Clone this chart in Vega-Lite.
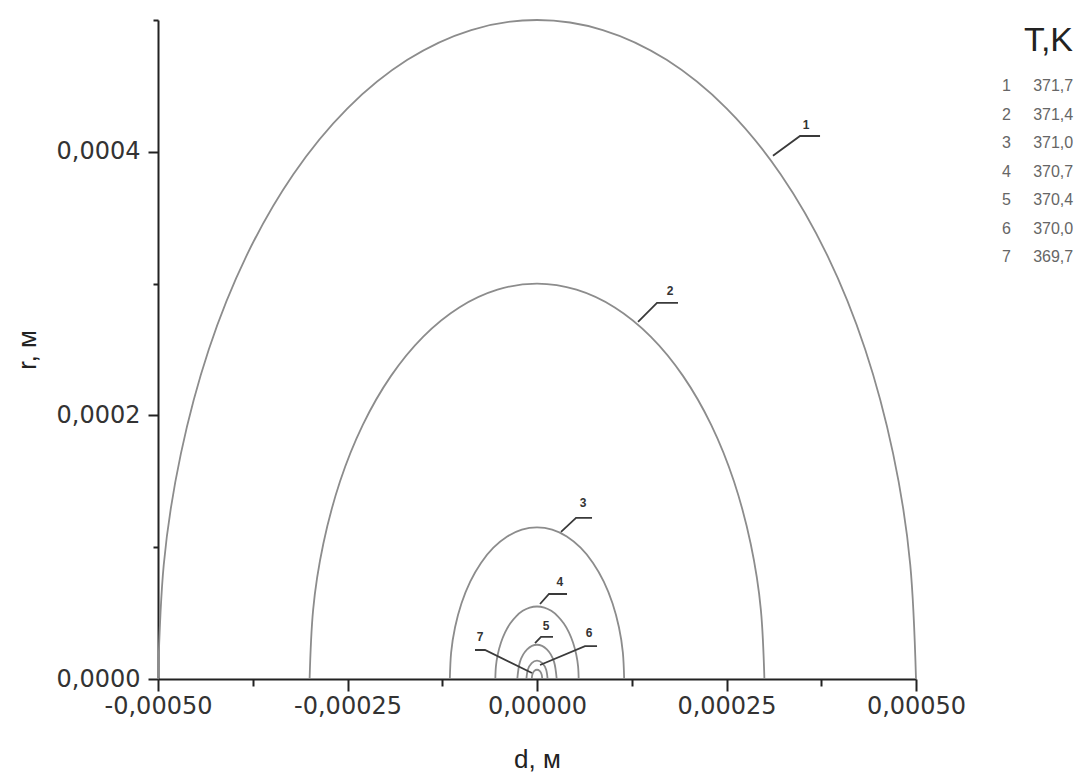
{
  "$schema": "https://vega.github.io/schema/vega-lite/v6.json",
  "width": 758,
  "height": 659,
  "autosize": {"type": "none"},
  "padding": {"left": 158, "top": 20, "right": 168, "bottom": 99},
  "background": "white",
  "config": {
    "view": {"stroke": null},
    "axis": {
      "grid": false,
      "domainColor": "#222",
      "domainWidth": 2,
      "tickColor": "#222",
      "tickWidth": 2,
      "labelFont": "DejaVu Sans",
      "labelFontSize": 24,
      "labelColor": "#333",
      "titleFont": "Liberation Sans",
      "titleFontSize": 26,
      "titleFontWeight": "normal",
      "titleColor": "#222"
    }
  },
  "datasets": {
    "curves": [
      {"c": 1, "T": "371,7", "i": 0, "d": 0.0005, "r": 0},
      {"c": 1, "T": "371,7", "i": 1, "d": 0.0004924, "r": 0.0000868},
      {"c": 1, "T": "371,7", "i": 2, "d": 0.0004698, "r": 0.000171},
      {"c": 1, "T": "371,7", "i": 3, "d": 0.000433, "r": 0.00025},
      {"c": 1, "T": "371,7", "i": 4, "d": 0.000383, "r": 0.0003214},
      {"c": 1, "T": "371,7", "i": 5, "d": 0.0003214, "r": 0.000383},
      {"c": 1, "T": "371,7", "i": 6, "d": 0.00025, "r": 0.000433},
      {"c": 1, "T": "371,7", "i": 7, "d": 0.000171, "r": 0.0004698},
      {"c": 1, "T": "371,7", "i": 8, "d": 0.0000868, "r": 0.0004924},
      {"c": 1, "T": "371,7", "i": 9, "d": 0, "r": 0.0005},
      {"c": 1, "T": "371,7", "i": 10, "d": -0.0000868, "r": 0.0004924},
      {"c": 1, "T": "371,7", "i": 11, "d": -0.000171, "r": 0.0004698},
      {"c": 1, "T": "371,7", "i": 12, "d": -0.00025, "r": 0.000433},
      {"c": 1, "T": "371,7", "i": 13, "d": -0.0003214, "r": 0.000383},
      {"c": 1, "T": "371,7", "i": 14, "d": -0.000383, "r": 0.0003214},
      {"c": 1, "T": "371,7", "i": 15, "d": -0.000433, "r": 0.00025},
      {"c": 1, "T": "371,7", "i": 16, "d": -0.0004698, "r": 0.000171},
      {"c": 1, "T": "371,7", "i": 17, "d": -0.0004924, "r": 0.0000868},
      {"c": 1, "T": "371,7", "i": 18, "d": -0.0005, "r": 0},

      {"c": 2, "T": "371,4", "i": 0, "d": 0.0003, "r": 0},
      {"c": 2, "T": "371,4", "i": 1, "d": 0.0002954, "r": 0.0000521},
      {"c": 2, "T": "371,4", "i": 2, "d": 0.0002819, "r": 0.0001026},
      {"c": 2, "T": "371,4", "i": 3, "d": 0.0002598, "r": 0.00015},
      {"c": 2, "T": "371,4", "i": 4, "d": 0.0002298, "r": 0.0001928},
      {"c": 2, "T": "371,4", "i": 5, "d": 0.0001928, "r": 0.0002298},
      {"c": 2, "T": "371,4", "i": 6, "d": 0.00015, "r": 0.0002598},
      {"c": 2, "T": "371,4", "i": 7, "d": 0.0001026, "r": 0.0002819},
      {"c": 2, "T": "371,4", "i": 8, "d": 0.0000521, "r": 0.0002954},
      {"c": 2, "T": "371,4", "i": 9, "d": 0, "r": 0.0003},
      {"c": 2, "T": "371,4", "i": 10, "d": -0.0000521, "r": 0.0002954},
      {"c": 2, "T": "371,4", "i": 11, "d": -0.0001026, "r": 0.0002819},
      {"c": 2, "T": "371,4", "i": 12, "d": -0.00015, "r": 0.0002598},
      {"c": 2, "T": "371,4", "i": 13, "d": -0.0001928, "r": 0.0002298},
      {"c": 2, "T": "371,4", "i": 14, "d": -0.0002298, "r": 0.0001928},
      {"c": 2, "T": "371,4", "i": 15, "d": -0.0002598, "r": 0.00015},
      {"c": 2, "T": "371,4", "i": 16, "d": -0.0002819, "r": 0.0001026},
      {"c": 2, "T": "371,4", "i": 17, "d": -0.0002954, "r": 0.0000521},
      {"c": 2, "T": "371,4", "i": 18, "d": -0.0003, "r": 0},

      {"c": 3, "T": "371,0", "i": 0, "d": 0.000115, "r": 0},
      {"c": 3, "T": "371,0", "i": 1, "d": 0.0001133, "r": 0.00002},
      {"c": 3, "T": "371,0", "i": 2, "d": 0.0001081, "r": 0.0000393},
      {"c": 3, "T": "371,0", "i": 3, "d": 0.0000996, "r": 0.0000575},
      {"c": 3, "T": "371,0", "i": 4, "d": 0.0000881, "r": 0.0000739},
      {"c": 3, "T": "371,0", "i": 5, "d": 0.0000739, "r": 0.0000881},
      {"c": 3, "T": "371,0", "i": 6, "d": 0.0000575, "r": 0.0000996},
      {"c": 3, "T": "371,0", "i": 7, "d": 0.0000393, "r": 0.0001081},
      {"c": 3, "T": "371,0", "i": 8, "d": 0.00002, "r": 0.0001133},
      {"c": 3, "T": "371,0", "i": 9, "d": 0, "r": 0.000115},
      {"c": 3, "T": "371,0", "i": 10, "d": -0.00002, "r": 0.0001133},
      {"c": 3, "T": "371,0", "i": 11, "d": -0.0000393, "r": 0.0001081},
      {"c": 3, "T": "371,0", "i": 12, "d": -0.0000575, "r": 0.0000996},
      {"c": 3, "T": "371,0", "i": 13, "d": -0.0000739, "r": 0.0000881},
      {"c": 3, "T": "371,0", "i": 14, "d": -0.0000881, "r": 0.0000739},
      {"c": 3, "T": "371,0", "i": 15, "d": -0.0000996, "r": 0.0000575},
      {"c": 3, "T": "371,0", "i": 16, "d": -0.0001081, "r": 0.0000393},
      {"c": 3, "T": "371,0", "i": 17, "d": -0.0001133, "r": 0.00002},
      {"c": 3, "T": "371,0", "i": 18, "d": -0.000115, "r": 0},

      {"c": 4, "T": "370,7", "i": 0, "d": 0.000055, "r": 0},
      {"c": 4, "T": "370,7", "i": 1, "d": 0.0000542, "r": 0.0000096},
      {"c": 4, "T": "370,7", "i": 2, "d": 0.0000517, "r": 0.0000188},
      {"c": 4, "T": "370,7", "i": 3, "d": 0.0000476, "r": 0.0000275},
      {"c": 4, "T": "370,7", "i": 4, "d": 0.0000421, "r": 0.0000354},
      {"c": 4, "T": "370,7", "i": 5, "d": 0.0000354, "r": 0.0000421},
      {"c": 4, "T": "370,7", "i": 6, "d": 0.0000275, "r": 0.0000476},
      {"c": 4, "T": "370,7", "i": 7, "d": 0.0000188, "r": 0.0000517},
      {"c": 4, "T": "370,7", "i": 8, "d": 0.0000096, "r": 0.0000542},
      {"c": 4, "T": "370,7", "i": 9, "d": 0, "r": 0.000055},
      {"c": 4, "T": "370,7", "i": 10, "d": -0.0000096, "r": 0.0000542},
      {"c": 4, "T": "370,7", "i": 11, "d": -0.0000188, "r": 0.0000517},
      {"c": 4, "T": "370,7", "i": 12, "d": -0.0000275, "r": 0.0000476},
      {"c": 4, "T": "370,7", "i": 13, "d": -0.0000354, "r": 0.0000421},
      {"c": 4, "T": "370,7", "i": 14, "d": -0.0000421, "r": 0.0000354},
      {"c": 4, "T": "370,7", "i": 15, "d": -0.0000476, "r": 0.0000275},
      {"c": 4, "T": "370,7", "i": 16, "d": -0.0000517, "r": 0.0000188},
      {"c": 4, "T": "370,7", "i": 17, "d": -0.0000542, "r": 0.0000096},
      {"c": 4, "T": "370,7", "i": 18, "d": -0.000055, "r": 0},

      {"c": 5, "T": "370,4", "i": 0, "d": 0.000026, "r": 0},
      {"c": 5, "T": "370,4", "i": 1, "d": 0.0000225, "r": 0.000013},
      {"c": 5, "T": "370,4", "i": 2, "d": 0.000013, "r": 0.0000225},
      {"c": 5, "T": "370,4", "i": 3, "d": 0, "r": 0.000026},
      {"c": 5, "T": "370,4", "i": 4, "d": -0.000013, "r": 0.0000225},
      {"c": 5, "T": "370,4", "i": 5, "d": -0.0000225, "r": 0.000013},
      {"c": 5, "T": "370,4", "i": 6, "d": -0.000026, "r": 0},

      {"c": 6, "T": "370,0", "i": 0, "d": 0.000014, "r": 0},
      {"c": 6, "T": "370,0", "i": 1, "d": 0.0000121, "r": 0.000007},
      {"c": 6, "T": "370,0", "i": 2, "d": 0.000007, "r": 0.0000121},
      {"c": 6, "T": "370,0", "i": 3, "d": 0, "r": 0.000014},
      {"c": 6, "T": "370,0", "i": 4, "d": -0.000007, "r": 0.0000121},
      {"c": 6, "T": "370,0", "i": 5, "d": -0.0000121, "r": 0.000007},
      {"c": 6, "T": "370,0", "i": 6, "d": -0.000014, "r": 0},

      {"c": 7, "T": "369,7", "i": 0, "d": 0.000007, "r": 0},
      {"c": 7, "T": "369,7", "i": 1, "d": 0.0000061, "r": 0.0000035},
      {"c": 7, "T": "369,7", "i": 2, "d": 0.0000035, "r": 0.0000061},
      {"c": 7, "T": "369,7", "i": 3, "d": 0, "r": 0.000007},
      {"c": 7, "T": "369,7", "i": 4, "d": -0.0000035, "r": 0.0000061},
      {"c": 7, "T": "369,7", "i": 5, "d": -0.0000061, "r": 0.0000035},
      {"c": 7, "T": "369,7", "i": 6, "d": -0.000007, "r": 0}
    ],
    "leaders": [
      {"lab": "1", "i": 0, "d": 0.0003113, "r": 0.000397},
      {"lab": "1", "i": 1, "d": 0.000347, "r": 0.000412},
      {"lab": "1", "i": 2, "d": 0.0003734, "r": 0.000412},
      {"lab": "2", "i": 0, "d": 0.0001333, "r": 0.000271},
      {"lab": "2", "i": 1, "d": 0.0001583, "r": 0.0002854},
      {"lab": "2", "i": 2, "d": 0.000186, "r": 0.0002854},
      {"lab": "3", "i": 0, "d": 0.0000317, "r": 0.0001116},
      {"lab": "3", "i": 1, "d": 0.0000515, "r": 0.0001222},
      {"lab": "3", "i": 2, "d": 0.0000726, "r": 0.0001222},
      {"lab": "4", "i": 0, "d": 0.000004, "r": 0.0000569},
      {"lab": "4", "i": 1, "d": 0.0000158, "r": 0.0000645},
      {"lab": "4", "i": 2, "d": 0.0000396, "r": 0.0000645},
      {"lab": "5", "i": 0, "d": -0.0000026, "r": 0.0000273},
      {"lab": "5", "i": 1, "d": 0.0000053, "r": 0.0000319},
      {"lab": "5", "i": 2, "d": 0.0000211, "r": 0.0000319},
      {"lab": "6", "i": 0, "d": 0.000004, "r": 0.0000106},
      {"lab": "6", "i": 1, "d": 0.0000633, "r": 0.000025},
      {"lab": "6", "i": 2, "d": 0.0000792, "r": 0.000025},
      {"lab": "7", "i": 0, "d": -0.0000818, "r": 0.000022},
      {"lab": "7", "i": 1, "d": -0.0000686, "r": 0.000022},
      {"lab": "7", "i": 2, "d": -0.0000066, "r": 0.0000046}
    ],
    "labels": [
      {"lab": "1", "d": 0.000355, "r": 0.00042},
      {"lab": "2", "d": 0.0001755, "r": 0.0002945},
      {"lab": "3", "d": 0.0000607, "r": 0.0001336},
      {"lab": "4", "d": 0.0000303, "r": 0.0000736},
      {"lab": "5", "d": 0.0000119, "r": 0.0000402},
      {"lab": "6", "d": 0.0000686, "r": 0.0000349},
      {"lab": "7", "d": -0.0000752, "r": 0.0000319}
    ]
  },
  "layer": [
    {
      "data": {"name": "curves"},
      "mark": {"type": "line", "interpolate": "natural", "strokeWidth": 1.8},
      "encoding": {
        "x": {
          "field": "d", "type": "quantitative",
          "scale": {"domain": [-0.0005, 0.0005], "nice": false, "zero": false},
          "axis": {
            "title": "d, м",
            "titlePadding": 28,
            "values": [-0.0005, -0.000375, -0.00025, -0.000125, 0, 0.000125, 0.00025, 0.000375, 0.0005],
            "labelExpr": "abs(datum.value / 0.00025 - round(datum.value / 0.00025)) < 0.01 ? (datum.value < 0 ? '-' : '') + replace(format(abs(datum.value), '.5f'), '.', ',') : ''",
            "tickSize": {"condition": {"test": "abs(datum.value / 0.00025 - round(datum.value / 0.00025)) < 0.01", "value": 12}, "value": 7},
            "labelPadding": 3,
            "labelFlush": false,
            "labelOverlap": false
          }
        },
        "y": {
          "field": "r", "type": "quantitative",
          "scale": {"domain": [0, 0.0005], "nice": false},
          "axis": {
            "title": "r, м",
            "titlePadding": 16,
            "values": [0, 0.0001, 0.0002, 0.0003, 0.0004, 0.0005],
            "labelExpr": "abs(datum.value / 0.0002 - round(datum.value / 0.0002)) < 0.01 ? replace(format(datum.value, '.4f'), '.', ',') : ''",
            "tickSize": {"condition": {"test": "abs(datum.value / 0.0002 - round(datum.value / 0.0002)) < 0.01", "value": 10}, "value": 5},
            "labelPadding": 8,
            "labelFlush": false,
            "labelOverlap": false
          }
        },
        "color": {
          "field": "T", "type": "nominal",
          "scale": {
            "domain": ["371,7", "371,4", "371,0", "370,7", "370,4", "370,0", "369,7"],
            "range": ["#8c8c8c", "#8c8c8c", "#8c8c8c", "#8c8c8c", "#8c8c8c", "#8c8c8c", "#8c8c8c"]
          },
          "legend": {
            "title": "T,K",
            "orient": "none",
            "legendX": 828,
            "legendY": 4,
            "titleFont": "Liberation Sans",
            "titleFontSize": 34,
            "titleFontWeight": "normal",
            "titleColor": "#222",
            "titleAnchor": "end",
            "titlePadding": 20,
            "labelFont": "Liberation Sans",
            "labelFontSize": 16,
            "labelColor": "#666",
            "labelOffset": 0,
            "symbolSize": 0,
            "symbolStrokeWidth": 0,
            "symbolOpacity": 0,
            "rowPadding": 12.5,
            "labelExpr": "(indexof(domain('color'), datum.value) + 1) + '\u00a0\u00a0\u00a0\u00a0\u00a0' + datum.value"
          }
        },
        "detail": {"field": "c", "type": "nominal"},
        "order": {"field": "i", "type": "quantitative"}
      }
    },
    {
      "data": {"name": "leaders"},
      "mark": {"type": "line", "color": "#3a3a3a", "strokeWidth": 1.8},
      "encoding": {
        "x": {"field": "d", "type": "quantitative"},
        "y": {"field": "r", "type": "quantitative"},
        "detail": {"field": "lab", "type": "nominal"},
        "order": {"field": "i", "type": "quantitative"}
      }
    },
    {
      "data": {"name": "labels"},
      "mark": {"type": "text", "font": "Liberation Sans", "fontSize": 12, "fontWeight": "bold", "color": "#333"},
      "encoding": {
        "x": {"field": "d", "type": "quantitative"},
        "y": {"field": "r", "type": "quantitative"},
        "text": {"field": "lab", "type": "nominal"}
      }
    }
  ]
}
